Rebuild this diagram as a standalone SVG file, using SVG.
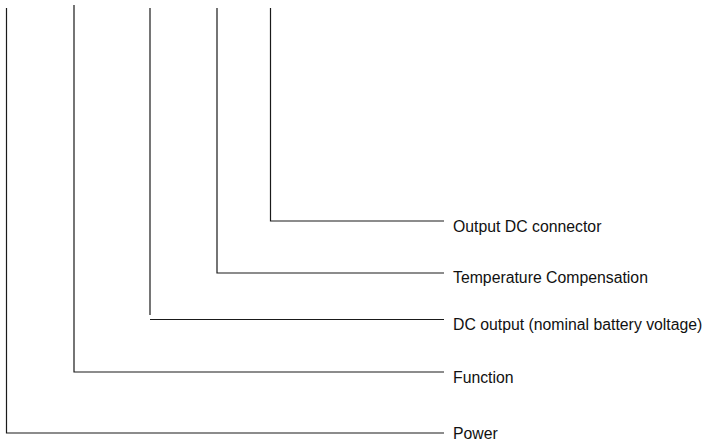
<svg xmlns="http://www.w3.org/2000/svg" width="704" height="441" viewBox="0 0 704 441">
<style>
.c{fill:none;stroke:#1a1a1a;stroke-width:1.2}
.t{font-family:"Liberation Sans",Arial,sans-serif;font-size:15.8px;fill:#111}
</style>
<rect width="704" height="441" fill="#fff"/>
<g id="connectors">
<polyline class="c" points="6.5,8 6.5,433 444,433"/>
<polyline class="c" points="74,5 74,372 444,372"/>
<polyline class="c" points="150,8 150,315"/>
<line class="c" x1="150" y1="319.5" x2="444" y2="319.5"/>
<polyline class="c" points="217,8 217,273 444,273"/>
<polyline class="c" points="270.5,8 270.5,221 444,221"/>
</g>
<g id="n-output-dc"><text class="t" x="453" y="231.5">Output DC connector</text></g>
<g id="n-temperature"><text class="t" x="453" y="283">Temperature Compensation</text></g>
<g id="n-dc-output"><text class="t" x="453" y="330">DC output (nominal battery voltage)</text></g>
<g id="n-function"><text class="t" x="453" y="382.5">Function</text></g>
<g id="n-power"><text class="t" x="453" y="439">Power</text></g>
</svg>
